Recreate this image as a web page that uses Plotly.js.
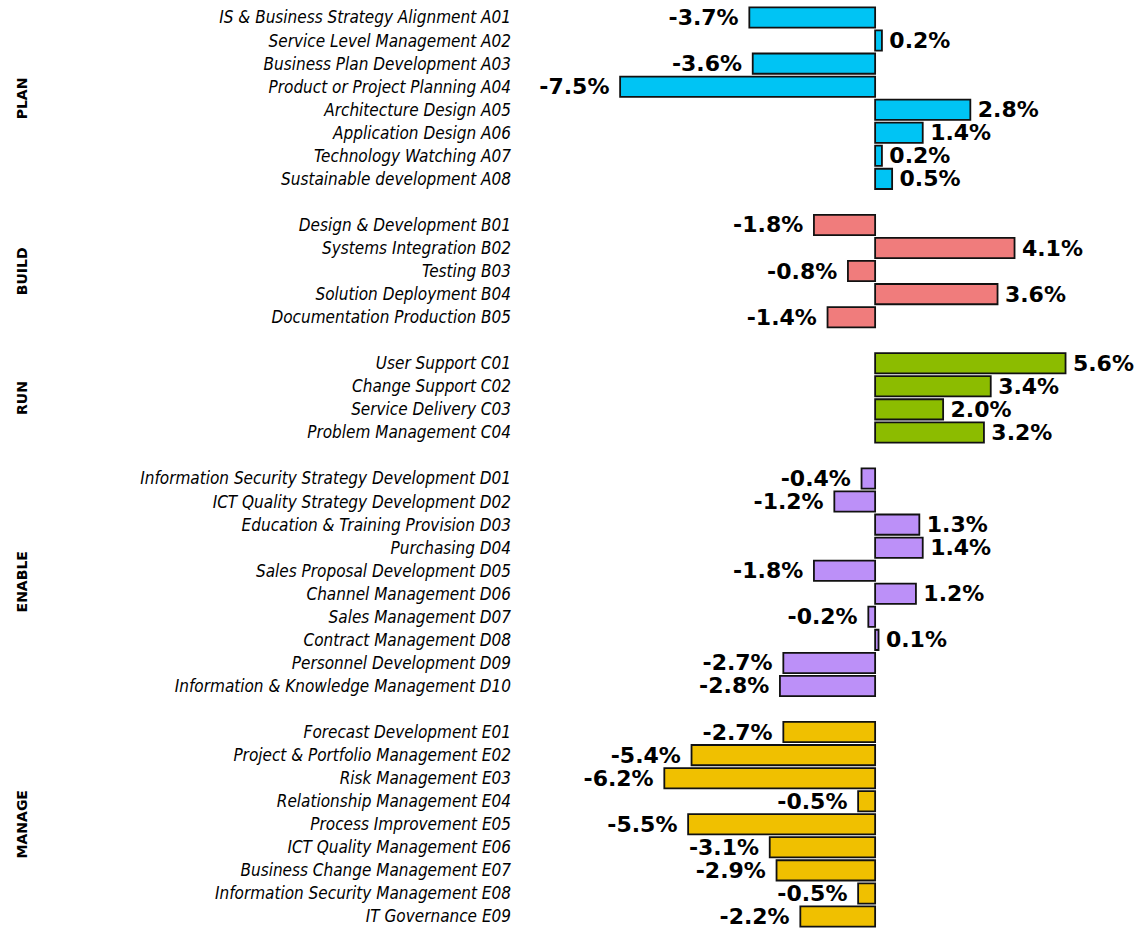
<!DOCTYPE html>
<html><head><meta charset="utf-8">
<script src="https://cdn.plot.ly/plotly-3.0.1.min.js"></script>
<style>html,body{margin:0;padding:0;background:#fff}#chart{width:1144px;height:930px}</style>
</head><body><div id="chart"></div>
<script>
const groupNames = ["PLAN", "BUILD", "RUN", "ENABLE", "MANAGE"];
const planLabels = ["IS & Business Strategy Alignment A01","Service Level Management A02","Business Plan Development A03","Product or Project Planning A04","Architecture Design A05","Application Design A06","Technology Watching A07","Sustainable development A08"];
const planValues = [-3.7, 0.2, -3.6, -7.5, 2.8, 1.4, 0.2, 0.5];
const buildLabels = ["Design & Development B01","Systems Integration B02","Testing B03","Solution Deployment B04","Documentation Production B05"];
const buildValues = [-1.8, 4.1, -0.8, 3.6, -1.4];
const runLabels = ["User Support C01","Change Support C02","Service Delivery C03","Problem Management C04"];
const runValues = [5.6, 3.4, 2.0, 3.2];
const enableLabels = ["Information Security Strategy Development D01","ICT Quality Strategy Development D02","Education & Training Provision D03","Purchasing D04","Sales Proposal Development D05","Channel Management D06","Sales Management D07","Contract Management D08","Personnel Development D09","Information & Knowledge Management D10"];
const enableValues = [-0.4, -1.2, 1.3, 1.4, -1.8, 1.2, -0.2, 0.1, -2.7, -2.8];
const manageLabels = ["Forecast Development E01","Project & Portfolio Management E02","Risk Management E03","Relationship Management E04","Process Improvement E05","ICT Quality Management E06","Business Change Management E07","Information Security Management E08","IT Governance E09"];
const manageValues = [-2.7, -5.4, -6.2, -0.5, -5.5, -3.1, -2.9, -0.5, -2.2];

const groupLabels = [planLabels, buildLabels, runLabels, enableLabels, manageLabels];
const groupValues = [planValues, buildValues, runValues, enableValues, manageValues];
const groupColors = ["#00C4F4", "#F07C7C", "#8CBC00", "#BC90F8", "#F0C000"];

const traces = [];
const tickvals = [], ticktext = [];
const annotations = [];
let pos = 0;
groupLabels.forEach((labels, g) => {
  const ys = labels.map((l, i) => pos + i);
  ys.forEach((y, i) => { tickvals.push(y); ticktext.push(labels[i]); });
  traces.push({
    type: "bar", orientation: "h",
    x: groupValues[g], y: ys,
    marker: {color: groupColors[g], line: {color: "#111", width: 1.8}},
    text: groupValues[g].map(v => v >= 0 ? "\u2009" + v.toFixed(1) + "%" : v.toFixed(1) + "% "),
    textposition: "outside",
    constraintext: "none",
    cliponaxis: false,
    textfont: {family: "DejaVu Sans", size: 22, color: "#000", weight: "bold"},
    hoverinfo: "x+y"
  });
  annotations.push({
    xref: "paper", yref: "y", x: -0.78, xanchor: "center", y: pos + (labels.length - 1) / 2,
    text: "<b>" + groupNames[g] + "</b>", textangle: -90, showarrow: false,
    font: {family: "DejaVu Sans", size: 14, color: "#000"}
  });
  pos += labels.length + 1;
});

const layout = {
  width: 1144, height: 930,
  margin: {l: 512, r: 4, t: 6, b: 2},
  paper_bgcolor: "#fff", plot_bgcolor: "#fff",
  showlegend: false,
  bargap: 0.12,
  xaxis: {range: [-10.68, 7.79], showgrid: false, zeroline: false, showticklabels: false, showline: false, ticks: ""},
  yaxis: {range: [pos - 1.5, -0.5], tickvals: tickvals, ticktext: ticktext, showgrid: false, zeroline: false,
          showline: false, ticks: "", ticklen: 0, ticklabelstandoff: 0,
          tickfont: {family: "DejaVu Sans Condensed, DejaVu Sans", size: 17, color: "#000", style: "italic"}},
  annotations: annotations
};
Plotly.newPlot("chart", traces, layout, {displayModeBar: false, staticPlot: true});
</script></body></html>
